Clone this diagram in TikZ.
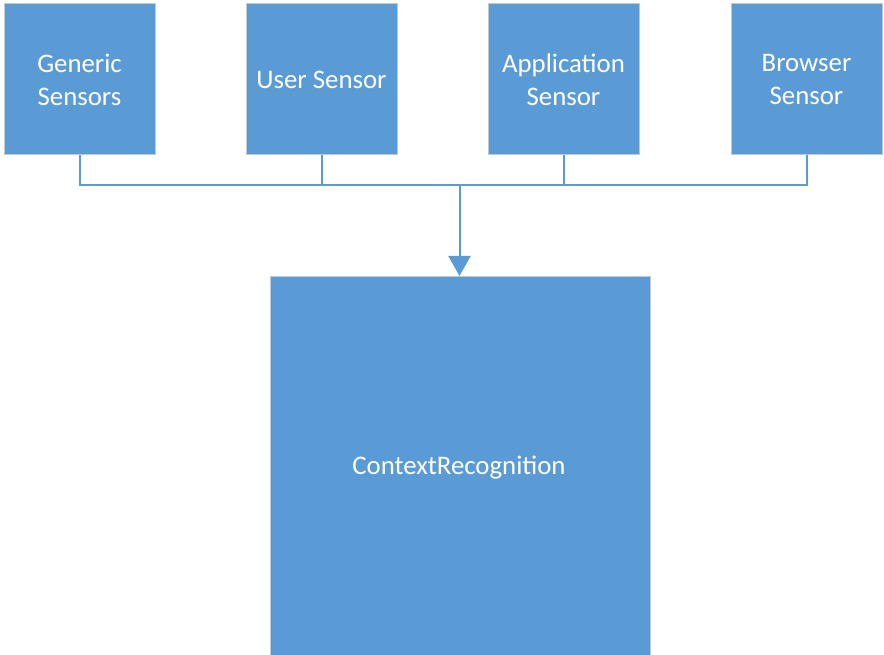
\documentclass[tikz,border=0pt]{standalone}
\usepackage{fontspec}
\setmainfont{Carlito}
\usetikzlibrary{arrows.meta}
\definecolor{boxblue}{HTML}{5B9BD5}
\definecolor{edgegray}{HTML}{C0C8D0}
\begin{document}
\begin{tikzpicture}[x=1pt,y=-1pt,
  labelfont/.style={font=\fontsize{26.8}{33}\selectfont},
  sensorbox/.style={draw=edgegray,line width=1pt,fill=boxblue,minimum width=151pt,minimum height=151pt,
    inner sep=0pt,text=white,align=center,labelfont},
  wire/.style={draw=boxblue,line width=2pt},
  ]
\useasboundingbox (0,0) rectangle (884,655);
\node[sensorbox] (gen) at (79.5,79.5) {Generic\\Sensors};
\node[sensorbox] (usr) at (321.5,79.5) {User Sensor};
\node[sensorbox] (app) at (563.5,79.5) {Application\\Sensor};
\node[sensorbox] (brw) at (806.5,79.5) {Browser\\Sensor};
\node[draw=edgegray,line width=1pt,fill=boxblue,minimum width=380pt,minimum height=420pt,inner sep=0pt,
  anchor=north] (ctx) at (460,276) {};
\node[text=white,labelfont] (lbl) at (459,468) {ContextRecognition};
\coordinate (bus) at (459.5,185);
\draw[wire] (gen.south) |- (bus);
\draw[wire] (brw.south) |- (bus);
\draw[wire] (usr.south) -- (usr.south |- bus);
\draw[wire] (app.south) -- (app.south |- bus);
\draw[wire,-{Triangle[length=20pt,width=22pt]}] (bus) -- (bus |- ctx.north);
\end{tikzpicture}
\end{document}
